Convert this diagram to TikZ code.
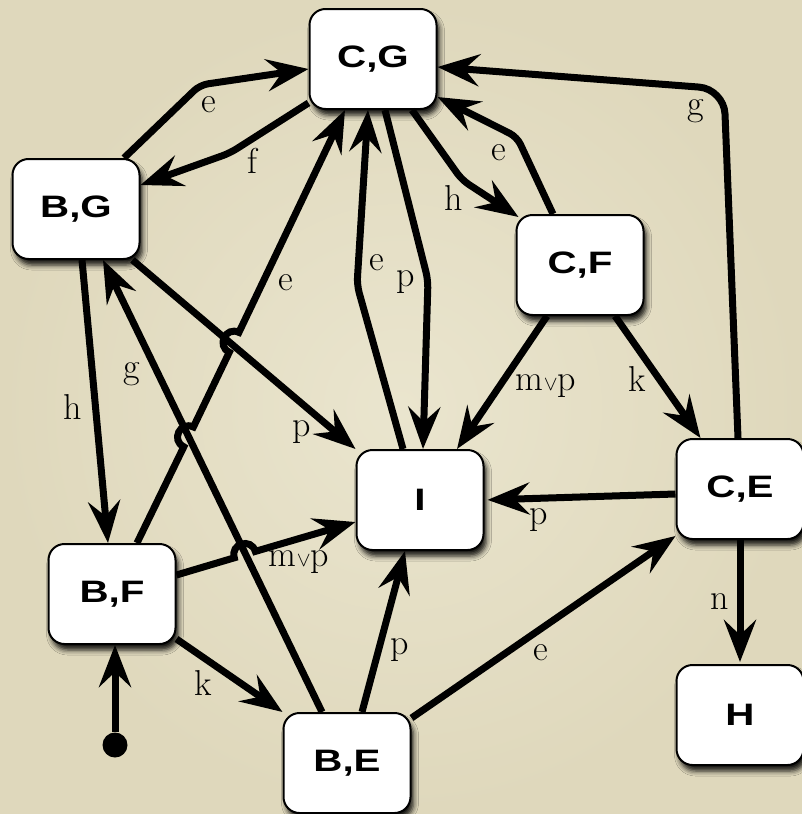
\documentclass[tikz,border=0pt]{standalone}
\usepackage{fontspec}
\newfontfamily\boxfont[FakeStretch=1.3]{Liberation Sans}
\usetikzlibrary{arrows.meta,shadows.blur,calc}
\definecolor{bgin}{RGB}{234,229,206}
\definecolor{bgout}{RGB}{223,216,188}
\begin{document}
\begin{tikzpicture}[x=1pt,y=-1pt,
  box/.style={draw=black, line width=2pt, fill=white, rounded corners=16pt,
    minimum width=127pt, minimum height=100pt, inner sep=0pt,
    font=\boxfont\bfseries\fontsize{31}{33}\selectfont,
    blur shadow={shadow xshift=3pt, shadow yshift=-6pt, shadow blur radius=5pt, shadow opacity=90}},
  conn/.style={line width=7pt, -{Stealth[length=42pt,width=32pt,inset=15pt]}, rounded corners=8pt},
  lbl/.style={font=\fontsize{36}{40}\selectfont, inner sep=0pt}]
\fill[inner color=bgin, outer color=bgout] (0,0) rectangle (802,814);
\useasboundingbox (0,0) rectangle (802,814);

% nodes
\node[box] (CG) at (373,59) {C,G};
\node[box] (BG) at (76,209) {B,G};
\node[box] (CF) at (580,265) {C,F};
\node[box] (I)  at (420,500) {I};
\node[box] (CE) at (740,489) {C,E};
\node[box] (H)  at (740,715) {H};
\node[box] (BF) at (112,594) {B,F};
\node[box] (BE) at (347,763) {B,E};
\node[circle, fill=black, minimum size=25pt, inner sep=0pt] (st) at (115,745) {};

% connectors
\draw[conn] ([xshift=48pt]BG.north) -- (200,85) -- ([yshift=-10pt]CG.west);
\draw[conn] ([yshift=-44pt]CG.west) -- (230,153) -- ([yshift=24pt]BG.east);
\draw[conn] ([xshift=39pt]CG.south) -- (462,180) -- ([xshift=3pt,yshift=-3pt]CF.north west);
\draw[conn] ([xshift=-27pt]CF.north) -- (517,137) -- ([yshift=-38pt]CG.east);
\draw[conn, rounded corners=25pt] ([xshift=-2pt]CE.north) -- (724,89) -- ([yshift=-8pt]CG.east);
\draw[conn] ([xshift=-33pt]CF.south) -- ([xshift=37pt]I.north);
\draw[conn] ([xshift=35pt]CF.south) -- ([xshift=25pt]CE.north west);
\draw[conn, shorten >=3pt] ([yshift=-5pt]CE.west) -- (I.east);
\draw[conn, shorten >=2pt] (CE.south) -- (H.north);
\draw[conn] ([xshift=12pt]CG.south) -- (428,280) -- ([xshift=3pt]I.north);
\draw[conn] ([xshift=-17pt]I.north) -- (357,285) -- ([xshift=-5pt]CG.south);
\draw[conn, sharp corners] ([xshift=25pt]BF.north) -- (183.8,446.8)
  .. controls (170.6,440.4) and (180.2,420.6) .. (193.4,427.0) -- (229.3,352.2)
  .. controls (216.1,345.8) and (225.7,326.0) .. (238.9,332.4) -- ([xshift=-28pt]CG.south);
\draw[conn] ([xshift=-8pt]BG.south east) -- (I.north west);
\draw[conn] ([xshift=6pt]BG.south) -- ([xshift=-4pt]BF.north);
\draw[conn] ([xshift=-25pt]BE.north) -- ([xshift=27pt]BG.south);
\draw[conn, sharp corners] ([yshift=19pt]BF.east) -- (234.3,557.8)
  .. controls (230.1,543.7) and (251.1,537.3) .. (255.3,551.4) -- ([yshift=-22pt]I.west);
\draw[conn] ([yshift=6pt]BF.south east) -- (BE.north west);
\draw[conn] ([xshift=15pt]BE.north) -- ([xshift=-15pt]I.south);
\draw[conn] ([yshift=45pt]BE.east) -- ([yshift=4pt]CE.south west);
\draw[conn] (st) -- ([xshift=3pt]BF.south);

% labels
\node[lbl] (l1) at (209,105) {e};
\node[lbl] (l2) at (252,161) {f};
\node[lbl] (l3) at (454,198) {h};
\node[lbl] (l4) at (499,153) {e};
\node[lbl] (l5) at (696,111) {g};
\node[lbl] (l6) at (546,386) {m{\fontsize{20}{20}\selectfont$\vee$}p};
\node[lbl] (l7) at (637,379) {k};
\node[lbl] (l8) at (539,520) {p};
\node[lbl] (l9) at (720,602) {n};
\node[lbl] (l10) at (406,282) {p};
\node[lbl] (l11) at (377,263) {e};
\node[lbl] (l12) at (286,283) {e};
\node[lbl] (l13) at (302,432) {p};
\node[lbl] (l14) at (73,407) {h};
\node[lbl] (l15) at (132,374) {g};
\node[lbl] (l16) at (299,562) {m{\fontsize{20}{20}\selectfont$\vee$}p};
\node[lbl] (l17) at (203,683) {k};
\node[lbl] (l18) at (400,650) {p};
\node[lbl] (l19) at (541,653) {e};
\end{tikzpicture}
\end{document}
